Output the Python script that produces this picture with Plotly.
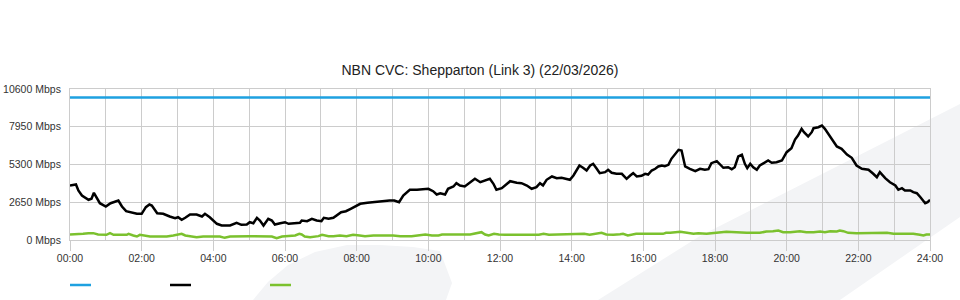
import plotly.graph_objects as go

# ---------------- data ----------------
title_text = "NBN CVC: Shepparton (Link 3) (22/03/2026)"

x_tick_minutes = [0, 120, 240, 360, 480, 600, 720, 840, 960, 1080, 1200, 1320, 1440]
x_tick_labels = ["00:00", "02:00", "04:00", "06:00", "08:00", "10:00", "12:00",
                 "14:00", "16:00", "18:00", "20:00", "22:00", "24:00"]
y_tick_values = [0, 2650, 5300, 7950, 10600]
y_tick_labels = ["0 Mbps", "2650 Mbps", "5300 Mbps", "7950 Mbps", "10600 Mbps"]

# link capacity (blue)
cap_minutes = [0, 360, 720, 1080, 1440]
cap_mbps = [10000, 10000, 10000, 10000, 10000]

# download traffic (black), minutes since midnight
dl_minutes = [0, 10, 14, 20, 31, 36, 40, 45, 50, 60, 68, 81, 87, 94, 103, 112, 120, 127, 133, 137,
              146, 156, 167, 176, 181, 187, 193, 201, 212, 221, 226, 234, 246, 254, 268, 279, 287,
              296, 301, 307, 313, 318, 324, 332, 338, 343, 352, 360, 366, 374, 385, 388, 397, 405,
              413, 421, 425, 433, 441, 454, 462, 470, 478, 486, 498, 507, 519, 535, 543, 551, 558,
              569, 581, 592, 600, 608, 614, 620, 628, 633, 642, 647, 653, 661, 670, 678, 687, 695,
              703, 709, 714, 723, 731, 737, 748, 756, 765, 773, 781, 787, 792, 798, 807, 815, 823,
              832, 837, 843, 848, 853, 859, 865, 871, 876, 882, 887, 896, 901, 907, 915, 924, 932,
              938, 943, 949, 957, 963, 968, 974, 980, 985, 991, 996, 1002, 1007, 1013, 1019, 1024,
              1030, 1038, 1047, 1055, 1063, 1069, 1074, 1083, 1088, 1094, 1102, 1108, 1113, 1119,
              1125, 1130, 1134, 1139, 1144, 1150, 1155, 1164, 1169, 1175, 1183, 1192, 1200, 1208,
              1214, 1219, 1225, 1229, 1236, 1242, 1245, 1253, 1259, 1264, 1270, 1276, 1284, 1292,
              1301, 1309, 1317, 1326, 1337, 1345, 1351, 1356, 1365, 1373, 1382, 1387, 1393, 1398,
              1407, 1412, 1418, 1424, 1432, 1436, 1440]
dl_mbps = [3826, 3896, 3475, 3124, 2822, 2892, 3313, 2892, 2583, 2352, 2583, 2773, 2352, 2022, 1952,
           1839, 1839, 2303, 2492, 2422, 1881, 1839, 1650, 1530, 1600, 1418, 1558, 1790, 1790, 1650,
           1839, 1600, 1137, 1018, 1018, 1207, 1067, 1088, 1250, 1180, 1558, 1369, 1018, 1488, 1369,
           1088, 1180, 1250, 1137, 1180, 1207, 1369, 1320, 1488, 1369, 1320, 1558, 1488, 1558, 1952,
           2022, 2190, 2352, 2541, 2611, 2654, 2724, 2773, 2773, 2654, 3124, 3524, 3524, 3594, 3594,
           3426, 3194, 3285, 3194, 3594, 3756, 3987, 3826, 3756, 4058, 4296, 4058, 4177, 4296, 3945,
           3524, 3636, 3945, 4128, 4015, 3987, 3826, 3594, 3707, 3987, 3826, 4226, 4458, 4338, 4366,
           4296, 4226, 4528, 4928, 5230, 5068, 4879, 5230, 5349, 4998, 4689, 4760, 4928, 4717, 4647,
           4647, 4296, 4528, 4689, 4458, 4507, 4647, 4598, 4879, 4998, 5160, 5230, 5181, 5279, 5700,
           5981, 6332, 6283, 5160, 4998, 4830, 4998, 4928, 4970, 5391, 5532, 5349, 5068, 5110, 4970,
           5110, 5862, 5981, 5349, 5040, 5349, 5110, 4928, 5230, 5419, 5581, 5419, 5462, 5581, 6164,
           6444, 7055, 7336, 7806, 7568, 7266, 7568, 7848, 7918, 8038, 7806, 7455, 7104, 6564, 6402,
           6002, 5770, 5230, 4998, 4928, 4647, 4409, 4760, 4338, 4058, 3826, 3524, 3636, 3475, 3475,
           3356, 3285, 3005, 2583, 2654, 2822]

# upload traffic (green), minutes since midnight
ul_minutes = [0, 11, 22, 31, 39, 47, 61, 67, 73, 95, 98, 106, 112, 117, 134, 142, 162, 173, 181, 187,
              193, 201, 212, 223, 240, 251, 259, 268, 301, 338, 346, 355, 377, 384, 388, 393, 402,
              416, 422, 433, 441, 452, 463, 474, 485, 494, 508, 522, 530, 541, 553, 572, 595, 606,
              617, 623, 645, 670, 689, 695, 701, 710, 718, 729, 785, 793, 802, 819, 830, 853, 861,
              870, 878, 890, 898, 910, 921, 926, 934, 940, 948, 965, 993, 998, 1005, 1022, 1030,
              1044, 1052, 1066, 1074, 1088, 1099, 1116, 1133, 1155, 1166, 1177, 1186, 1194, 1206,
              1222, 1233, 1245, 1256, 1264, 1273, 1284, 1289, 1295, 1303, 1317, 1334, 1345, 1368,
              1379, 1390, 1401, 1412, 1423, 1429, 1434, 1440]
ul_mbps = [386, 386, 433, 480, 480, 386, 363, 480, 363, 363, 433, 316, 246, 363, 246, 246, 246, 316,
           363, 433, 316, 246, 200, 246, 246, 246, 152, 246, 270, 246, 127, 246, 316, 433, 386, 246,
           200, 270, 363, 270, 270, 316, 270, 363, 316, 270, 316, 316, 363, 316, 270, 270, 386, 316,
           316, 386, 386, 386, 550, 386, 316, 433, 386, 363, 363, 433, 363, 386, 363, 386, 433, 363,
           433, 503, 386, 363, 400, 433, 316, 386, 433, 433, 433, 503, 503, 573, 503, 433, 480, 433,
           480, 550, 573, 550, 503, 503, 597, 620, 667, 550, 550, 620, 550, 550, 597, 550, 620, 597,
           667, 620, 503, 480, 503, 480, 503, 433, 433, 386, 433, 363, 316, 386, 386]

series_colors = ["#1ea1e0", "#000000", "#7bc12e"]

# ---------------- figure ----------------
W, H = 960, 300
L, R, T, B = 70, 30, 89, 60
PW, PH = W - L - R, H - T - B


def px(x, y):
    """pixel position -> paper coordinate (decorations only)"""
    return (x - L) / PW, (H - B - y) / PH


def path(points, closed=True):
    parts = []
    for i, (x, y) in enumerate(points):
        a, b = px(x, y)
        parts.append(("M" if i == 0 else "L") + f"{a:.4f},{b:.4f}")
    return " ".join(parts) + (" Z" if closed else "")


fig = go.Figure()
fig.add_trace(go.Scatter(x=[m / 60 for m in cap_minutes], y=cap_mbps, mode="lines",
                         line=dict(color=series_colors[0], width=2.5), name=""))
fig.add_trace(go.Scatter(x=[m / 60 for m in dl_minutes], y=dl_mbps, mode="lines",
                         line=dict(color=series_colors[1], width=2.5), name=""))
fig.add_trace(go.Scatter(x=[m / 60 for m in ul_minutes], y=ul_mbps, mode="lines",
                         line=dict(color=series_colors[2], width=2.5), name=""))

wm = "#f3f4f6"
shapes = [
    dict(type="path", xref="paper", yref="paper", layer="below", line_width=0, fillcolor=wm,
         path=path([(253, 300), (268, 282), (288, 265), (315, 252), (347, 245), (380, 245),
                    (413, 247), (440, 251), (452, 283), (446, 300)])),
    dict(type="path", xref="paper", yref="paper", layer="below", line_width=0, fillcolor=wm,
         path=path([(598, 300), (700, 236), (960, 104), (960, 217), (840, 300)])),
]
# legend glyphs (no labels in the reference)
for i, c in enumerate(series_colors):
    x0 = 70 + i * 100
    a0, b0 = px(x0, 285)
    a1, _ = px(x0 + 21, 285)
    shapes.append(dict(type="line", xref="paper", yref="paper", x0=a0, x1=a1, y0=b0, y1=b0,
                       line=dict(color=c, width=2.5)))

grid = "#cccccc"
fig.update_layout(
    width=W, height=H, margin=dict(l=L, r=R, t=T, b=B, autoexpand=False),
    paper_bgcolor="white", plot_bgcolor="rgba(0,0,0,0)",
    showlegend=False,
    font=dict(family="Liberation Sans, Arial, sans-serif", size=10.5, color="#333333"),
    title=dict(text=title_text, x=0.5, xanchor="center", y=1 - 70 / H, yanchor="middle",
               yref="container", font=dict(size=14, color="#222222")),
    shapes=shapes,
    xaxis=dict(range=[0, 24], tickmode="array", tickvals=[m / 60 for m in x_tick_minutes],
               ticktext=x_tick_labels, showgrid=True, gridcolor=grid, gridwidth=1,
               ticks="outside", ticklen=10, tickcolor=grid, tickwidth=1, ticklabelstandoff=-2,
               showline=True, linecolor=grid, linewidth=1, mirror=True, zeroline=False,
               minor=dict(dtick=1, showgrid=True, gridcolor=grid, gridwidth=1, ticks=""),
               automargin=False, fixedrange=True),
    yaxis=dict(range=[0, 10600], tickmode="array", tickvals=y_tick_values, ticktext=y_tick_labels,
               showgrid=True, gridcolor=grid, gridwidth=1, ticks="", ticklabelstandoff=6,
               showline=True, linecolor=grid, linewidth=1, mirror=True, zeroline=False,
               automargin=False, fixedrange=True),
)

fig.write_html("out.html")
